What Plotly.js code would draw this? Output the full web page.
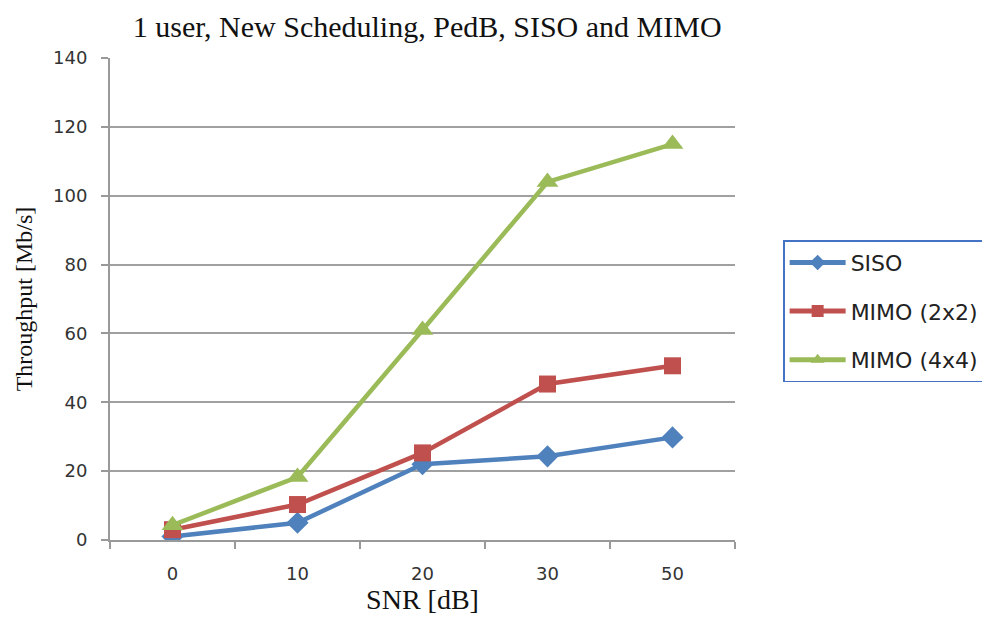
<!DOCTYPE html>
<html>
<head>
<meta charset="utf-8">
<script src="https://cdn.plot.ly/plotly-3.0.1.min.js"></script>
<style>html,body{margin:0;padding:0;background:#fff;}#chart{width:982px;height:619px;}</style>
</head>
<body>
<div id="chart"></div>
<script>
const categories = ["0", "10", "20", "30", "50"];
const siso = [1, 5, 22, 24.3, 29.8];
const mimo2x2 = [3, 10.3, 25.3, 45.3, 50.6];
const mimo4x4 = [4.3, 18.3, 61, 104, 115];
const yTicks = [0, 20, 40, 60, 80, 100, 120, 140];

const traces = [
  {x: categories, y: siso, name: "SISO", legendgroup: "a", type: "scatter", mode: "lines+markers",
   line: {color: "#4F81BD", width: 4.5}, marker: {symbol: "diamond", size: 17, color: "#4F81BD"}},
  {x: categories, y: mimo2x2, name: "MIMO (2x2)", legendgroup: "b", type: "scatter", mode: "lines+markers",
   line: {color: "#C0504D", width: 4.5}, marker: {symbol: "square", size: 17, color: "#C0504D"}},
  {x: categories, y: mimo4x4, name: "MIMO (4x4)", legendgroup: "c", type: "scatter", mode: "lines+markers",
   line: {color: "#9BBB59", width: 4.5}, marker: {symbol: "triangle-up", size: 19, color: "#9BBB59"}}
];

const serif = "Liberation Serif, Times New Roman, serif";
const sans = "DejaVu Sans, Verdana, sans-serif";

const layout = {
  width: 982, height: 619,
  margin: {l: 110, r: 247, t: 58, b: 79, autoexpand: false},
  paper_bgcolor: "#fff", plot_bgcolor: "#fff",
  title: {text: "1 user, New Scheduling, PedB, SISO and MIMO", x: 0.435, xanchor: "center", y: 0.957, yanchor: "middle",
          font: {family: serif, size: 30, color: "#111"}},
  xaxis: {type: "category", range: [-0.5, 4.5], tickson: "boundaries", ticks: "outside", ticklen: 7, tickcolor: "#999", tickwidth: 2,
          showline: true, linecolor: "#999", linewidth: 2, showgrid: false, zeroline: false,
          ticklabelstandoff: 16,
          tickfont: {family: sans, size: 18, color: "#333"},
          title: {text: "SNR [dB]", standoff: 4, font: {family: serif, size: 28, color: "#111"}}},
  yaxis: {range: [0, 140], tickvals: yTicks, ticks: "outside", ticklen: 7, tickcolor: "#999", tickwidth: 2,
          showline: true, linecolor: "#999", linewidth: 2, showgrid: true, gridcolor: "#a0a0a0", gridwidth: 2, zeroline: false,
          ticklabelstandoff: 10,
          tickfont: {family: sans, size: 18, color: "#333"},
          title: {text: "Throughput [Mb/s]", standoff: 14, font: {family: serif, size: 24, color: "#111"}}},
  legend: {x: 1.077, xanchor: "left", y: 0.622, yanchor: "top", bordercolor: "#4472C4", borderwidth: 1.5, bgcolor: "#fff",
           tracegroupgap: 17, itemwidth: 56, itemsizing: "constant",
           font: {family: sans, size: 22, color: "#222"}},
  showlegend: true
};

Plotly.newPlot("chart", traces, layout, {displayModeBar: false, staticPlot: true});
</script>
</body>
</html>
